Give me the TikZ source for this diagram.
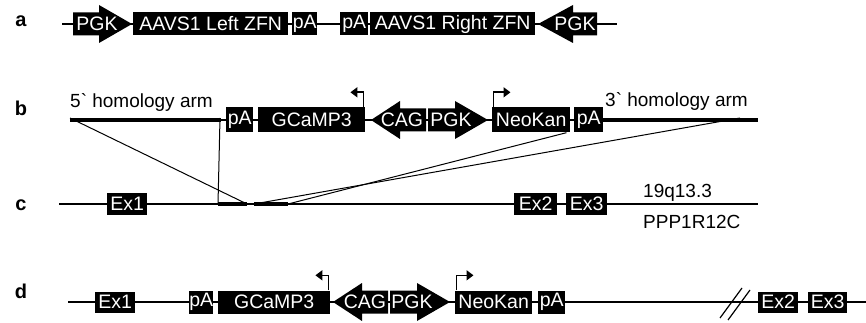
\documentclass[tikz,border=0pt]{standalone}
\usepackage{fontspec}
\setmainfont{Liberation Sans}
\usetikzlibrary{arrows.meta}
\newcommand\myRarrow[4]{% x1, xb, tip, y
  \fill (#1,#4-11.5) -- (#2,#4-11.5) -- (#2,#4-19) -- (#3,#4) -- (#2,#4+19) -- (#2,#4+11.5) -- (#1,#4+11.5) -- cycle;}
\newcommand\myLarrow[4]{% tip, xb, x2, y
  \fill (#3,#4-11.5) -- (#2,#4-11.5) -- (#2,#4-19) -- (#1,#4) -- (#2,#4+19) -- (#2,#4+11.5) -- (#3,#4+11.5) -- cycle;}
\begin{document}
\begin{tikzpicture}[x=1pt,y=-1pt,
  box/.style={fill=black,text=white,inner sep=0pt,minimum height=23pt,
    font=\fontsize{19.5}{19.5}\selectfont,anchor=west},
  arrtxt/.style={text=white,inner sep=0pt,font=\fontsize{19.5}{19.5}\selectfont},
  lbl/.style={font=\bfseries\fontsize{20}{20}\selectfont,anchor=base,inner sep=0pt},
  txt/.style={font=\fontsize{19}{19}\selectfont,inner sep=0pt},
  backbone/.style={line width=1.4pt},
  arm/.style={line width=4.5pt},
  conn/.style={line width=1pt},
  prom/.style={line width=1.6pt,-{Triangle[length=7pt,width=10pt]}}
]
\useasboundingbox (0,0) rectangle (866,323);

% labels
\node[lbl] (la) at (21,27) {a};
\node[lbl] (lb) at (21,116) {b};
\node[lbl] (lc) at (21,210) {c};
\node[lbl] (ld) at (21,298) {d};

% ---------- row a ----------
\coordinate (aS) at (62,24);
\coordinate (aE) at (617,24);
\draw[backbone] (aS) -- (aE);
\myRarrow{73}{99}{132}{24}
\node[arrtxt] (apgk1) at (97,24) {PGK};
\node[box,minimum width=155pt] (aL) at (133,24) {AAVS1 Left ZFN};
\node[box,minimum width=25pt] (apA1) at (292,24) {pA};
\node[box,minimum width=28pt] (apA2) at (340,24) {pA};
\node[box,minimum width=165pt] (aR) at (370,24) {AAVS1 Right ZFN};
\myLarrow{538}{573}{597}{24}
\node[arrtxt] (apgk2) at (575,24) {PGK};

% ---------- row b ----------
\coordinate (b5L) at (70,120);
\coordinate (b5R) at (221,120);
\coordinate (b3L) at (603,120);
\coordinate (b3R) at (758,120);
\draw[backbone] (b5L) -- (b3R);
\draw[arm] (b5L) -- (b5R);
\draw[arm] (b3L) -- (b3R);
\node[txt,anchor=base west] (t5) at (70,108) {5\textasciigrave{} homology arm};
\node[txt,anchor=base west] (t3) at (605,107) {3\textasciigrave{} homology arm};
\node[box,minimum width=27pt,minimum height=25pt] (bpA1) at (226,120) {pA};
\node[box,minimum width=107pt,minimum height=25pt] (bgc) at (258,120) {GCaMP3};
\myLarrow{371}{400}{426}{120}
\node[arrtxt] (bcag) at (402,120) {CAG};
\myRarrow{428}{455}{488}{120}
\node[arrtxt] (bpgk) at (451,120) {PGK};
\node[box,minimum width=78pt,minimum height=25pt] (bneo) at (492,120) {NeoKan};
\node[box,minimum width=29pt,minimum height=25pt] (bpA2) at (574,120) {pA};
\draw[prom] ([xshift=-2pt]bgc.north east) -- ++(0,-15) -- ++(-13,0);
\draw[prom] ([xshift=1.5pt]bneo.north west) -- ++(0,-15) -- ++(17,0);

% ---------- row c ----------
\coordinate (cS) at (59,204);
\coordinate (cE) at (758,204);
\draw[backbone] (cS) -- (cE);
\coordinate (h1L) at (218,204);
\coordinate (h1R) at (247,204);
\coordinate (h2L) at (254,204);
\coordinate (h2R) at (288,204);
\draw[arm] (h1L) -- (h1R);
\draw[arm] (h2L) -- (h2R);
\node[box,minimum width=40pt,minimum height=22pt] (cex1) at (107,204) {Ex1};
\node[box,minimum width=43pt,minimum height=22pt] (cex2) at (514,204) {Ex2};
\node[box,minimum width=41pt,minimum height=22pt] (cex3) at (566,204) {Ex3};
\node[txt,anchor=base west] (loc) at (643,197) {19q13.3};
\node[txt,anchor=base west] (gene) at (643,228) {PPP1R12C};

% connectors b -> c
\draw[conn] ([yshift=2pt]b5L) -- (h1R);
\draw[conn] ([yshift=2pt,xshift=-1pt]b5R) -- (h1L);
\draw[conn] ([xshift=-4pt]bneo.south east) -- (h2R);
\draw[conn] ([xshift=-18pt,yshift=2pt]b3R) -- (h2L);

% ---------- row d ----------
\coordinate (dS) at (68,302);
\coordinate (dE) at (866,302);
\draw[backbone] (dS) -- (dE);
\node[box,minimum width=40pt,minimum height=21pt] (dex1) at (95,302) {Ex1};
\node[box,minimum width=24pt] (dpA1) at (189,302) {pA};
\node[box,minimum width=112pt] (dgc) at (218,302) {GCaMP3};
\myLarrow{333}{362}{388}{302}
\node[arrtxt] (dcag) at (365,302) {CAG};
\myRarrow{390}{417}{450}{302}
\node[arrtxt] (dpgk) at (412,302) {PGK};
\node[box,minimum width=77pt] (dneo) at (455,302) {NeoKan};
\node[box,minimum width=27pt] (dpA2) at (538,302) {pA};
\draw[prom] ([xshift=-2pt]dgc.north east) -- ++(0,-15) -- ++(-13,0);
\draw[prom] ([xshift=1.5pt]dneo.north west) -- ++(0,-15) -- ++(17,0);
\coordinate (s1a) at (720,318);
\coordinate (s1b) at (742,288);
\coordinate (s2a) at (728,320);
\coordinate (s2b) at (750,290);
\draw[conn,line width=1.2pt] (s1a) -- (s1b);
\draw[conn,line width=1.2pt] (s2a) -- (s2b);
\node[box,minimum width=40pt,minimum height=21pt] (dex2) at (758,302) {Ex2};
\node[box,minimum width=39pt,minimum height=21pt] (dex3) at (808,302) {Ex3};
\end{tikzpicture}
\end{document}
